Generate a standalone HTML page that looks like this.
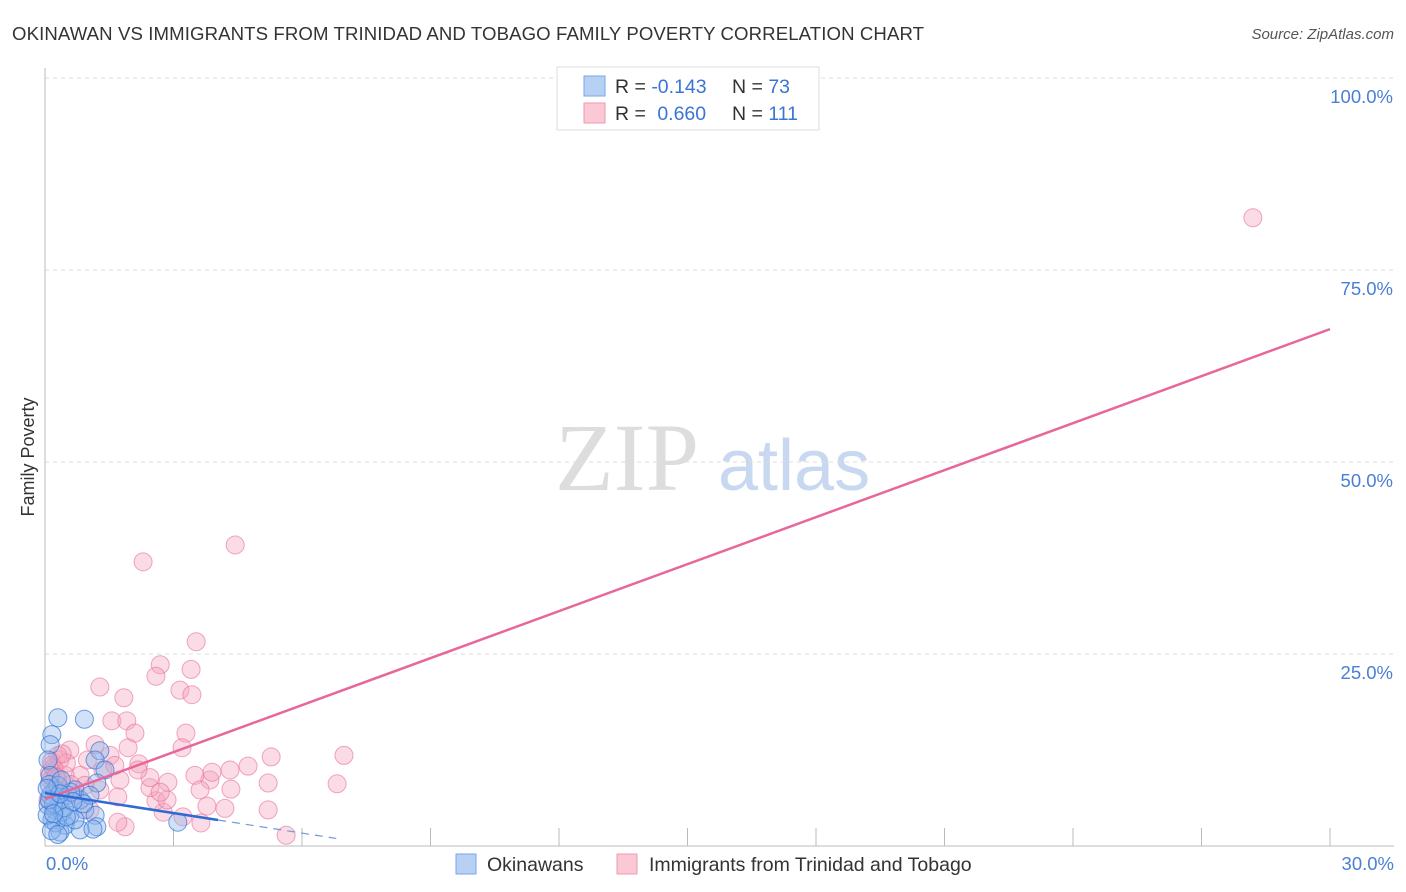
<!DOCTYPE html>
<html><head><meta charset="utf-8">
<style>
body{margin:0;background:#fff;font-family:"Liberation Sans",sans-serif;}
#wrap{position:relative;width:1406px;height:892px;overflow:hidden;}
</style></head>
<body>
<div id="wrap">
<svg id="chart" width="1406" height="892" xmlns="http://www.w3.org/2000/svg">
<text x="12" y="40" font-size="18.6" fill="#333" textLength="912">OKINAWAN VS IMMIGRANTS FROM TRINIDAD AND TOBAGO FAMILY POVERTY CORRELATION CHART</text>
<text x="1394" y="39" font-size="15" fill="#555" font-style="italic" text-anchor="end">Source: ZipAtlas.com</text>
<text transform="translate(34,457) rotate(-90)" font-size="18" fill="#333" text-anchor="middle">Family Poverty</text>
<g><text x="555" y="490" font-size="96" fill="#ddd" font-family="Liberation Serif,serif">ZIP</text><text x="718" y="490" font-size="72" fill="#c7d8f0">atlas</text></g>
<g id="grid"></g><g id="pts"></g><g id="lines"></g>
<g>
<rect x="557" y="67" width="262" height="63" fill="#fff" stroke="#ddd"/>
<rect x="584" y="76" width="21" height="20" fill="#b7d1f5" stroke="#7aa6e6"/>
<rect x="584" y="103" width="21" height="20" fill="#fbc8d6" stroke="#ee9ab3"/>
<text x="615" y="93" font-size="19.5" fill="#333">R = <tspan fill="#3a74d6">-0.143</tspan></text>
<text x="732" y="93" font-size="19.5" fill="#333">N = <tspan fill="#3a74d6">73</tspan></text>
<text x="615" y="120" font-size="19.5" fill="#333">R = <tspan fill="#3a74d6" dx="6">0.660</tspan></text>
<text x="732" y="120" font-size="19.5" fill="#333">N = <tspan fill="#3a74d6">111</tspan></text>
</g>
<g>
<rect x="456" y="854" width="20" height="20" fill="#b7d1f5" stroke="#7aa6e6"/>
<text x="487" y="871" font-size="19.5" fill="#333">Okinawans</text>
<rect x="617" y="854" width="20" height="20" fill="#fbc8d6" stroke="#ee9ab3"/>
<text x="649" y="871" font-size="19.5" fill="#333">Immigrants from Trinidad and Tobago</text>
</g>
</svg>
</div>
<script>
const yTicks=[25,50,75,100];
const yTickLabels=["25.0%","50.0%","75.0%","100.0%"];
const xTicks=[0,3,6,9,12,15,18,21,24,27,30];
const xEndLabels=["0.0%","30.0%"];
const blueX=[0.3,0.92,0.16,0.12,0.07,0.12,1.28,1.17,1.4,1.21,0.7,0.35,0.23,0.58,0.93,1.17,0.47,0.82,1.21,1.12,0.35,0.16,3.1,0.23,0.07,0.54,0.82,0.4,0.7,0.12,0.3,1.05,0.2,0.45,0.6,0.1,0.25,0.9,0.05,0.38,0.15,0.3,0.5,0.1,0.2,0.65,0.35,0.05];
const blueY=[16.7,16.5,14.5,13.2,11.2,9.2,12.4,11.2,9.9,8.2,7.3,6.0,4.7,4.0,4.7,4.0,2.7,2.1,2.5,2.2,1.8,3.4,3.1,7.3,5.3,6.6,6.0,4.4,3.4,6.6,7.9,6.6,5.5,5.0,7.0,8.0,3.0,5.5,4.0,8.6,2.0,1.5,3.8,6.0,4.2,5.8,6.8,7.5];
const pinkX=[28.2,4.44,2.29,3.53,2.69,2.59,3.41,3.15,3.43,1.28,1.84,1.56,1.91,3.29,3.2,5.28,6.98,6.82,5.21,4.74,3.85,4.34,3.78,5.21,4.2,5.63,3.22,3.64,2.76,2.59,2.85,2.45,1.7,1.87,1.7,2.1,1.94,2.19,1.52,1.17,0.99,1.35,0.82,1.75,1.28,0.93,0.7,0.35,0.23,0.12,0.47,0.58,2.45,2.87,3.5,3.62,2.69,2.17,1.63,1.05,4.32,3.9,0.3,0.16,0.4,0.07,0.1,0.2,0.3,0.15,0.5,0.25,0.6,0.4];
const pinkY=[81.8,39.2,37.0,26.6,23.6,22.1,23.0,20.3,19.7,20.7,19.3,16.3,16.3,14.7,12.8,11.6,11.8,8.1,8.2,10.4,8.6,7.4,5.2,4.7,4.9,1.4,3.8,3.0,4.4,5.9,6.0,7.6,6.4,2.5,3.1,14.7,12.8,10.7,11.8,13.2,11.2,9.9,9.2,8.6,7.3,7.9,6.6,11.2,9.9,8.6,9.2,12.5,8.9,8.3,9.2,7.3,7.0,9.9,10.5,4.7,9.9,9.6,11.8,10.5,7.3,6.0,9.5,10.2,8.8,11.0,10.8,9.0,8.0,12.0];
const pinkTrend=[6.1,2.04];   // intercept, slope
const blueTrend=[6.9,-0.87];
const blueSolidEnd=4.04, blueDashEnd=6.8;

const X0=45,X1=1330,Y0=846,Y1=78;
const sx=v=>X0+(X1-X0)*v/30;
const sy=v=>Y0-(Y0-Y1)*v/100;
const NS="http://www.w3.org/2000/svg";
function mk(tag,attrs,parent){const e=document.createElementNS(NS,tag);for(const k in attrs)e.setAttribute(k,attrs[k]);parent.appendChild(e);return e;}
const grid=document.getElementById('grid');
yTicks.forEach((t,i)=>{
 const l=mk('line',{x1:X0,x2:1394,y1:sy(t),y2:sy(t),stroke:'#ddd','stroke-dasharray':'4,4'},grid);
 
 
 const tx=mk('text',{x:1393,y:sy(t)+25,'font-size':18.5,fill:'#4a7fd4','text-anchor':'end'},grid);
 tx.textContent=yTickLabels[i];
 
 
});
const ax=mk('line',{x1:X0,x2:X0,y1:68,y2:Y0,stroke:'#bbb'},grid);


const bx=mk('line',{x1:X0,x2:1394,y1:Y0,y2:Y0,stroke:'#bbb'},grid);


xTicks.forEach(t=>{
 const l=mk('line',{x1:sx(t),x2:sx(t),y1:Y0,y2:Y0-18,stroke:'#bbb'},grid);
 
 
});
[[0,'start',46],[30,'end',1394]].forEach((d,i)=>{
 const tx=mk('text',{x:d[2],y:870,'font-size':18.5,fill:'#4a7fd4','text-anchor':d[1]},grid);
 tx.textContent=xEndLabels[i];
 
 
});
const pts=document.getElementById('pts');
pinkX.forEach((v,i)=>{
 const c=mk('circle',{cx:sx(v),cy:sy(pinkY[i]),r:9,fill:'rgba(246,165,190,0.4)',stroke:'rgba(232,110,150,0.6)','stroke-width':1},pts);
 
 
});
blueX.forEach((v,i)=>{
 const c=mk('circle',{cx:sx(v),cy:sy(blueY[i]),r:9,fill:'rgba(140,180,235,0.4)',stroke:'rgba(50,115,215,0.7)','stroke-width':1},pts);
 
 
});
const lines=document.getElementById('lines');
const pl=mk('line',{x1:sx(0),y1:sy(pinkTrend[0]),x2:sx(30),y2:sy(pinkTrend[0]+pinkTrend[1]*30),stroke:'#e8679a','stroke-width':2.5},lines);


const bl=mk('line',{x1:sx(0),y1:sy(blueTrend[0]),x2:sx(blueSolidEnd),y2:sy(blueTrend[0]+blueTrend[1]*blueSolidEnd),stroke:'#2f6ad4','stroke-width':2.5},lines);


const bd=mk('line',{x1:sx(blueSolidEnd),y1:sy(blueTrend[0]+blueTrend[1]*blueSolidEnd),x2:sx(blueDashEnd),y2:sy(blueTrend[0]+blueTrend[1]*blueDashEnd),stroke:'#6f98dd','stroke-width':1.2,'stroke-dasharray':'8,6'},lines);


</script>
</body></html>
